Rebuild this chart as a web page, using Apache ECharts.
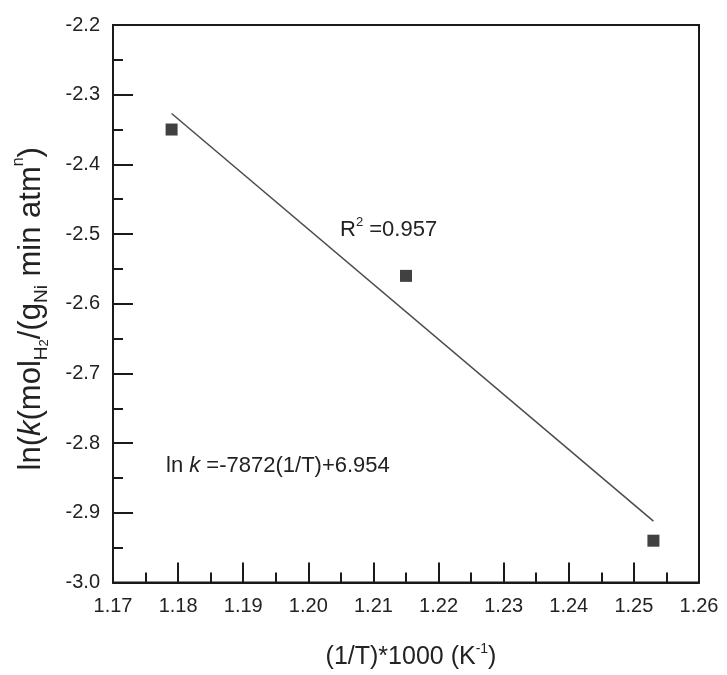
<!DOCTYPE html>
<html>
<head>
<meta charset="utf-8">
<script src="https://cdn.jsdelivr.net/npm/echarts@6/dist/echarts.min.js"></script>
<style>
  html, body { margin: 0; padding: 0; background: #fff; }
  #chart { width: 727px; height: 675px; }
</style>
</head>
<body>
<div id="chart"></div>
<script>
// measured points: (1/T)*1000 vs ln k
var invT = [1.179, 1.215, 1.253];
var lnK = [-2.35, -2.56, -2.94];
// fitted line end points
var fitX = [1.179, 1.253];
var fitY = [-2.327, -2.912];
var xTicks = ['1.17', '1.18', '1.19', '1.20', '1.21', '1.22', '1.23', '1.24', '1.25', '1.26'];
var yTicks = ['-3.0', '-2.9', '-2.8', '-2.7', '-2.6', '-2.5', '-2.4', '-2.3', '-2.2'];

var chart = echarts.init(document.getElementById('chart'));
var font = 'Liberation Sans, Arial, sans-serif';

var pts = invT.map(function (x, i) { return [x, lnK[i]]; });
var fit = fitX.map(function (x, i) { return [x, fitY[i]]; });

var option = {
  backgroundColor: '#fff',
  animation: false,
  grid: {
    left: 113, right: 28, top: 25, bottom: 90,
    show: true, borderColor: '#1a1a1a', borderWidth: 2
  },
  xAxis: {
    type: 'value',
    min: 1.17, max: 1.26, interval: 0.01,
    name: '{n|(1/T)*1000 (K}{p|-1}{n|)}',
    nameLocation: 'middle', nameGap: 60,
    nameTextStyle: {
      padding: [0, 0, 0, 10],
      rich: {
        n: { fontFamily: font, fontSize: 25, color: '#222', lineHeight: 30 },
        p: { fontFamily: font, fontSize: 14, color: '#222', verticalAlign: 'top', lineHeight: 30 }
      }
    },
    axisLine: { lineStyle: { color: '#1a1a1a', width: 2 } },
    axisTick: { inside: true, length: 20, lineStyle: { color: '#1a1a1a', width: 2 } },
    minorTick: { show: true, splitNumber: 2, length: 10, lineStyle: { color: '#1a1a1a', width: 2 } },
    splitLine: { show: false },
    axisLabel: {
      margin: 14, fontFamily: font, fontSize: 20, color: '#222',
      formatter: function (v) {
        var s = v.toFixed(2);
        return xTicks.indexOf(s) >= 0 ? s : '';
      }
    }
  },
  yAxis: {
    type: 'value',
    min: -3.0, max: -2.2, interval: 0.1,
    name: '{n|ln(}{i|k}{n|(mol}{s|H}{ss|2}{n|/(g}{s|Ni}{n| min atm}{p|n}{n|)}',
    nameLocation: 'middle', nameGap: 62, nameRotate: 90,
    nameTextStyle: {
      padding: [0, 10, 0, 0],
      rich: {
        n: { fontFamily: font, fontSize: 31, color: '#222', lineHeight: 40 },
        i: { fontFamily: font, fontSize: 31, fontStyle: 'italic', color: '#222', lineHeight: 40 },
        s: { fontFamily: font, fontSize: 19, color: '#222', verticalAlign: 'bottom', lineHeight: 40 },
        ss: { fontFamily: font, fontSize: 13, color: '#222', verticalAlign: 'bottom', lineHeight: 34 },
        p: { fontFamily: font, fontSize: 16, color: '#222', verticalAlign: 'top', lineHeight: 40 }
      }
    },
    axisLine: { lineStyle: { color: '#1a1a1a', width: 2 } },
    axisTick: { inside: true, length: 20, lineStyle: { color: '#1a1a1a', width: 2 } },
    minorTick: { show: true, splitNumber: 2, length: 10, lineStyle: { color: '#1a1a1a', width: 2 } },
    splitLine: { show: false },
    axisLabel: {
      margin: 13, fontFamily: font, fontSize: 20, color: '#222',
      formatter: function (v) {
        var s = v.toFixed(1);
        return yTicks.indexOf(s) >= 0 ? s : '';
      }
    }
  },
  series: [
    {
      name: 'fit',
      type: 'line',
      data: fit,
      symbol: 'none',
      lineStyle: { color: '#4a4a4a', width: 1.5 },
      z: 2
    },
    {
      name: 'data',
      type: 'scatter',
      data: pts,
      symbol: 'rect',
      symbolSize: 12,
      itemStyle: { color: '#111' },
      z: 3
    }
  ],
  graphic: [
    {
      type: 'text', left: 340, top: 216,
      style: {
        text: '{n|R}{p|2}{n| =0.957}',
        rich: {
          n: { fontFamily: font, fontSize: 22, fill: '#222', lineHeight: 28 },
          p: { fontFamily: font, fontSize: 13, fill: '#222', verticalAlign: 'top', lineHeight: 28 }
        }
      }
    },
    {
      type: 'text', left: 166, top: 455,
      style: {
        text: '{n|ln }{i|k}{n| =-7872(1/T)+6.954}',
        rich: {
          n: { fontFamily: font, fontSize: 22, fill: '#222', lineHeight: 28 },
          i: { fontFamily: font, fontSize: 22, fontStyle: 'italic', fill: '#222', lineHeight: 28 }
        }
      }
    }
  ]
};
chart.setOption(option);
</script>
</body>
</html>
